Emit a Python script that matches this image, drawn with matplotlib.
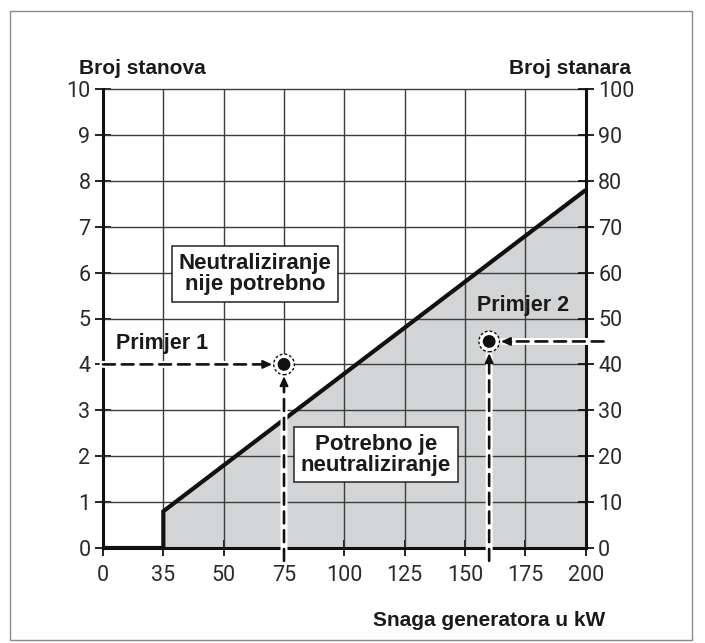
import numpy as np
import matplotlib
matplotlib.use("Agg")
import matplotlib.pyplot as plt
from matplotlib.patches import Rectangle

# --- data -------------------------------------------------------------
x_ticks = [0, 35, 50, 75, 100, 125, 150, 175, 200]          # kW (axis labels)
y_left_ticks = list(range(0, 11))                            # Broj stanova
y_right_ticks = list(range(0, 101, 10))                      # Broj stanara

# boundary between "no neutralisation" and "neutralisation required"
boundary_x = [0, 35, 35, 200]
boundary_y = [0, 0, 0.8, 7.8]

example_x = [75, 160]          # Primjer 1, Primjer 2 (kW)
example_y = [4, 4.5]           # Broj stanova
example_names = ["Primjer 1", "Primjer 2"]

plt.rcParams["font.family"] = ["Liberation Sans", "DejaVu Sans"]
TICK_FONT = ["Roboto", "Liberation Sans"]

# --- piecewise axis: every tick interval gets equal width ---------------
pos = np.arange(len(x_ticks), dtype=float)
xt = np.asarray(x_ticks, dtype=float)

def fwd(x):
    x = np.asarray(x, dtype=float)
    return np.where(x > xt[-1], pos[-1] + (x - xt[-1]) / 25.0,
                    np.where(x < 0, x / 35.0, np.interp(x, xt, pos)))

def inv(p):
    p = np.asarray(p, dtype=float)
    return np.where(p > pos[-1], xt[-1] + (p - pos[-1]) * 25.0,
                    np.where(p < 0, p * 35.0, np.interp(p, pos, xt)))

W, H = 705, 643
fig = plt.figure(figsize=(W / 100, H / 100), dpi=100)
fig.patch.set_facecolor("white")

# outer frame
fig.add_artist(Rectangle((10 / W, 3 / H), 682 / W, 629 / H, transform=fig.transFigure,
                         fill=False, edgecolor="#8a8a8a", lw=1.0))

ax = fig.add_axes([103 / W, 1 - 548 / H, 482.7 / W, 459 / H])
ax.set_xscale("function", functions=(fwd, inv))
ax.set_xlim(0, 200)
ax.set_ylim(0, 10)

# shaded region and boundary line
ax.fill_between(boundary_x[2:], [0, 0], boundary_y[2:], color="#d3d4d6", lw=0, zorder=1)
ax.plot(boundary_x, boundary_y, color="#111111", lw=3.0, solid_capstyle="butt",
        solid_joinstyle="miter", zorder=4)

# grid
for xv in x_ticks[1:-1]:
    ax.axvline(xv, color="#3c3c3c", lw=1.0, zorder=2)
for yv in y_left_ticks[1:-1]:
    ax.axhline(yv, color="#3c3c3c", lw=1.0, zorder=2)

for side in ["left", "right", "bottom"]:
    ax.spines[side].set_linewidth(2.2)
    ax.spines[side].set_color("#111111")
    ax.spines[side].set_zorder(6)
ax.spines["top"].set_linewidth(1.0)
ax.spines["top"].set_color("#3c3c3c")

ax.set_xticks(x_ticks)
ax.set_xticklabels([str(v) for v in x_ticks])
ax.set_yticks(y_left_ticks)
ax.set_yticklabels([str(v) for v in y_left_ticks])
ax.tick_params(axis="both", direction="inout", length=12, width=1.3, color="#111111",
               labelsize=15.5, labelcolor="#2a2a2a", pad=3)
ax.tick_params(axis="x", pad=6)

ax2 = ax.twinx()
ax2.set_ylim(0, 100)
ax2.set_yticks(y_right_ticks)
ax2.set_yticklabels([str(v) for v in y_right_ticks])
ax2.tick_params(axis="y", direction="inout", length=12, width=1.3, color="#111111",
                labelsize=15.5, labelcolor="#2a2a2a", pad=3)
for s in ax2.spines.values():
    s.set_visible(False)

for lab in ax.get_xticklabels() + ax.get_yticklabels() + ax2.get_yticklabels():
    lab.set_family(TICK_FONT)

# axis titles
fig.text(79 / W, 1 - 68 / H, "Broj stanova", fontsize=15, fontweight="bold",
         ha="left", va="center", color="#1a1a1a")
fig.text(631 / W, 1 - 68 / H, "Broj stanara", fontsize=15, fontweight="bold",
         ha="right", va="center", color="#1a1a1a")
fig.text(605 / W, 1 - 621 / H, "Snaga generatora u kW", fontsize=15, fontweight="bold",
         ha="right", va="center", color="#1a1a1a")

# region labels
box = dict(boxstyle="square,pad=0.3", facecolor="white", edgecolor="#222222", lw=1.1)
ax.text(63, 5.97, "Neutraliziranje\nnije potrebno", fontsize=16, fontweight="bold",
        ha="center", va="center", linespacing=1.0, bbox=box, zorder=7, color="#1a1a1a")
ax.text(113, 2.03, "Potrebno je\nneutraliziranje", fontsize=16, fontweight="bold",
        ha="center", va="center", linespacing=1.0, bbox=box, zorder=7, color="#1a1a1a")

# example labels
ax.text(34, 4.46, example_names[0], fontsize=15.5, fontweight="bold",
        ha="center", va="center", zorder=7, color="#1a1a1a")
ax.text(174, 5.29, example_names[1], fontsize=15.5, fontweight="bold",
        ha="center", va="center", zorder=7, color="#1a1a1a")

dash = (0, (4.5, 2.6))

def guide(xy, start, coords):
    # white underlay, black dashed shaft
    for lw, col, ls, shrink in [(5.0, "white", "-", 10), (1.9, "#111111", dash, 15)]:
        ax.annotate("", xy=xy, xytext=start, xycoords="data", textcoords=coords,
                    arrowprops=dict(arrowstyle="-", color=col, lw=lw, linestyle=ls,
                                    shrinkA=0, shrinkB=shrink), zorder=8)

def head(xy, dx, dy):
    ax.annotate("", xy=xy, xytext=(dx, dy), xycoords="data", textcoords="offset points",
                arrowprops=dict(arrowstyle="-|>,head_length=0.55,head_width=0.25",
                                color="#111111", lw=1.4, shrinkA=0, shrinkB=8.5), zorder=9)

# Primjer 1
guide((example_x[0], example_y[0]), (0.0, example_y[0]), ("axes fraction", "data"))
guide((example_x[0], example_y[0]), (example_x[0], -0.028), ("data", "axes fraction"))
head((example_x[0], example_y[0]), -16, 0)
head((example_x[0], example_y[0]), 0, -16)
# Primjer 2
guide((example_x[1], example_y[1]), (1.037, example_y[1]), ("axes fraction", "data"))
guide((example_x[1], example_y[1]), (example_x[1], -0.028), ("data", "axes fraction"))
head((example_x[1], example_y[1]), 16, 0)
head((example_x[1], example_y[1]), 0, -16)

# example points: black dot, white ring, dashed outline
ax.scatter(example_x, example_y, s=220, facecolor="white", edgecolor="#111111",
           linewidths=1.0, linestyle=(0, (2.0, 1.5)), zorder=10, clip_on=False)
ax.scatter(example_x, example_y, s=85, facecolor="#111111", edgecolor="none",
           zorder=11, clip_on=False)

fig.savefig("out.png", dpi=100, facecolor="white")
